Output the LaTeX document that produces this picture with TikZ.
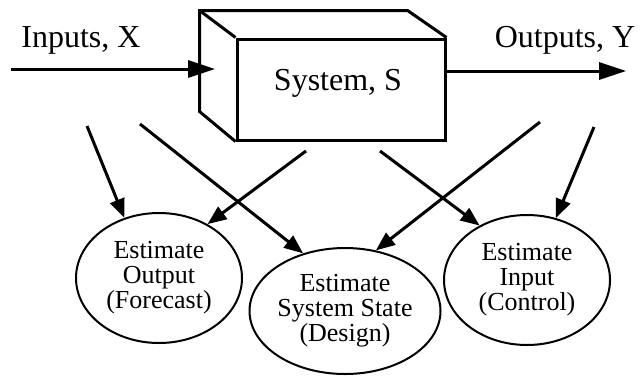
\documentclass[tikz,border=0pt]{standalone}
\usepackage{fontspec}
\setmainfont{Liberation Serif}
\usetikzlibrary{arrows.meta,shapes.geometric}
\begin{document}
\begin{tikzpicture}[x=0.5pt,y=-0.5pt,
 big/.style={font=\fontsize{16}{18}\selectfont, inner sep=0pt},
 est/.style={draw, ellipse, line width=1pt, minimum width=83pt, minimum height=65pt, inner sep=0pt, align=center, font=\fontsize{13}{12.5}\selectfont},
 link/.style={line width=1.5pt, -{Triangle[length=9.5pt,width=7.5pt]}},
 flow/.style={line width=1.5pt, -{Triangle[length=13.5pt,width=8.5pt]}},
 boxline/.style={line width=1.5pt, line join=miter}]
\useasboundingbox (0,0) rectangle (640,375);
% system box (front face)
\node[boxline, draw, minimum width=104pt, minimum height=50.5pt, inner sep=0pt] (sys) at (341,89.5) {};
\draw[boxline] (sys.south west) -- ++(-36,-30) coordinate (bl) -- ++(0,-101) coordinate (tl) -- ++(208,0) coordinate (tr) -- (sys.north east);
\draw[boxline] (tl) -- (sys.north west);
\node[big] (systxt) at (338,83) {System, S};
% inputs / outputs
\node[big] (intxt) at (81,40) {Inputs, X};
\node[big] (outtxt) at (565,40) {Outputs, Y};
\coordinate (inS) at (11,69);
\coordinate (inE) at (215,69);
\draw[flow] (inS) -- (inE);
\coordinate (outS) at (445,71);
\coordinate (outE) at (626,71);
\draw[flow] (outS) -- (outE);
% estimates
\node[est] (e1) at (159,278) {Estimate\\Output\\(Forecast)};
\node[est, minimum width=82.5pt, minimum height=63pt] (e2) at (345,311) {Estimate\\System State\\(Design)};
\node[est] (e3) at (527,280) {Estimate\\Input\\(Control)};
% connectors
\coordinate (a1) at (87,126);
\coordinate (a2) at (140,124);
\coordinate (a3) at (306,151);
\coordinate (a4) at (380,151);
\coordinate (a5) at (540,122);
\coordinate (a6) at (594,127);
\draw[link] (a1) -- (e1.120.5);
\draw[link] (a2) -- (e2.126);
\draw[link] (a3) -- (e1.48.8);
\draw[link] (a4) -- (e3.131.9);
\draw[link] (a5) -- (e2.63.4);
\draw[link] (a6) -- (e3.65.3);
\end{tikzpicture}
\end{document}
